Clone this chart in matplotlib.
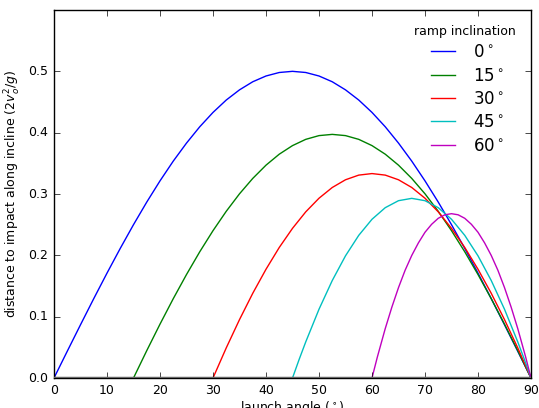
import matplotlib
matplotlib.use('Agg')
import matplotlib.pyplot as plt

# launch angle (deg) and distance along incline
theta_0 = [0, 2.5, 5, 7.5, 10, 12.5, 15, 17.5, 20, 22.5, 25, 27.5, 30, 32.5, 35, 37.5, 40, 42.5, 45,
           47.5, 50, 52.5, 55, 57.5, 60, 62.5, 65, 67.5, 70, 72.5, 75, 77.5, 80, 82.5, 85, 87.5, 90]
dist_0 = [0, 0.0436, 0.0868, 0.1294, 0.1710, 0.2113, 0.25, 0.2868, 0.3214, 0.3536, 0.3830, 0.4096,
          0.4330, 0.4532, 0.4698, 0.4830, 0.4924, 0.4981, 0.5, 0.4981, 0.4924, 0.4830, 0.4698, 0.4532,
          0.4330, 0.4096, 0.3830, 0.3536, 0.3214, 0.2868, 0.25, 0.2113, 0.1710, 0.1294, 0.0868, 0.0436, 0]

theta_15 = [15, 17.5, 20, 22.5, 25, 27.5, 30, 32.5, 35, 37.5, 40, 42.5, 45, 47.5, 50, 52.5,
            55, 57.5, 60, 62.5, 65, 67.5, 70, 72.5, 75, 77.5, 80, 82.5, 85, 87.5, 90]
dist_15 = [0, 0.0446, 0.0878, 0.1293, 0.1687, 0.2058, 0.2402, 0.2718, 0.3003, 0.3254, 0.3470, 0.3649,
           0.3789, 0.3891, 0.3952, 0.3972, 0.3952, 0.3891, 0.3789, 0.3649, 0.3470, 0.3254, 0.3003,
           0.2718, 0.2402, 0.2058, 0.1687, 0.1293, 0.0878, 0.0446, 0]

theta_30 = [30, 32.5, 35, 37.5, 40, 42.5, 45, 47.5, 50, 52.5, 55, 57.5, 60,
            62.5, 65, 67.5, 70, 72.5, 75, 77.5, 80, 82.5, 85, 87.5, 90]
dist_30 = [0, 0.0491, 0.0952, 0.1381, 0.1773, 0.2128, 0.2440, 0.2709, 0.2931, 0.3106, 0.3232, 0.3308,
           0.3333, 0.3308, 0.3232, 0.3106, 0.2931, 0.2709, 0.2440, 0.2128, 0.1773, 0.1381, 0.0952, 0.0491, 0]

theta_45 = [45, 46.25, 47.5, 50, 52.5, 55, 57.5, 60, 62.5, 65, 67.5, 70, 72.5, 75, 77.5, 80, 82.5, 85,
            87.5, 88.75, 90]
dist_45 = [0, 0.0302, 0.0589, 0.1121, 0.1589, 0.1992, 0.2326, 0.2588, 0.2777, 0.2891, 0.2929, 0.2891,
           0.2777, 0.2588, 0.2326, 0.1992, 0.1589, 0.1121, 0.0589, 0.0302, 0]

theta_60 = [60, 61, 62.5, 63.75, 65, 66.25, 67.5, 68.75, 70, 71.25, 72.5, 73.75, 75,
            76.25, 77.5, 78.75, 80, 81.25, 82.5, 83.75, 85, 86.25, 87.5, 89, 90]
dist_60 = [0, 0.0339, 0.0806, 0.1156, 0.1474, 0.1757, 0.1998, 0.2202, 0.2376, 0.2506, 0.2604, 0.2661,
           0.2679, 0.2661, 0.2604, 0.2506, 0.2376, 0.2202, 0.1998, 0.1757, 0.1474, 0.1156, 0.0806, 0.0339, 0]

labels = [r'$0^\circ$', r'$15^\circ$', r'$30^\circ$', r'$45^\circ$', r'$60^\circ$']
colors = ['b', 'g', 'r', 'c', 'm']

plt.style.use('classic')
plt.rcParams['font.family'] = ['DejaVu Sans']
plt.rcParams['mathtext.fontset'] = 'dejavusans'

fig = plt.figure(figsize=(5.39, 4.08), dpi=100, facecolor='white')
ax = fig.add_axes([54 / 539, 30 / 408, 477 / 539, 368 / 408])

series = [(theta_0, dist_0), (theta_15, dist_15), (theta_30, dist_30),
          (theta_45, dist_45), (theta_60, dist_60)]
for (t, d), c, lab in zip(series, colors, labels):
    ax.plot(t, d, color=c, lw=1, label=lab)

ax.axhline(0, color='0.4', lw=2.5, zorder=3)
ax.set_xlim(0, 90)
ax.set_ylim(0, 0.6)
ax.set_xticks(range(0, 91, 10))
ax.set_yticks([0.0, 0.1, 0.2, 0.3, 0.4, 0.5])
ax.tick_params(labelsize=9)
ax.set_xlabel(r'launch angle ($^\circ$)', fontsize=9, labelpad=2)
ax.set_ylabel(r'distance to impact along incline ($2v_o^2/g$)', fontsize=9, labelpad=4)

leg = ax.legend(loc='upper right', frameon=False, title='ramp inclination',
                prop={'size': 12}, handlelength=2.0, labelspacing=0.32)
leg.get_title().set_fontsize(9)

fig.savefig('out.png', dpi=100, facecolor='white')
